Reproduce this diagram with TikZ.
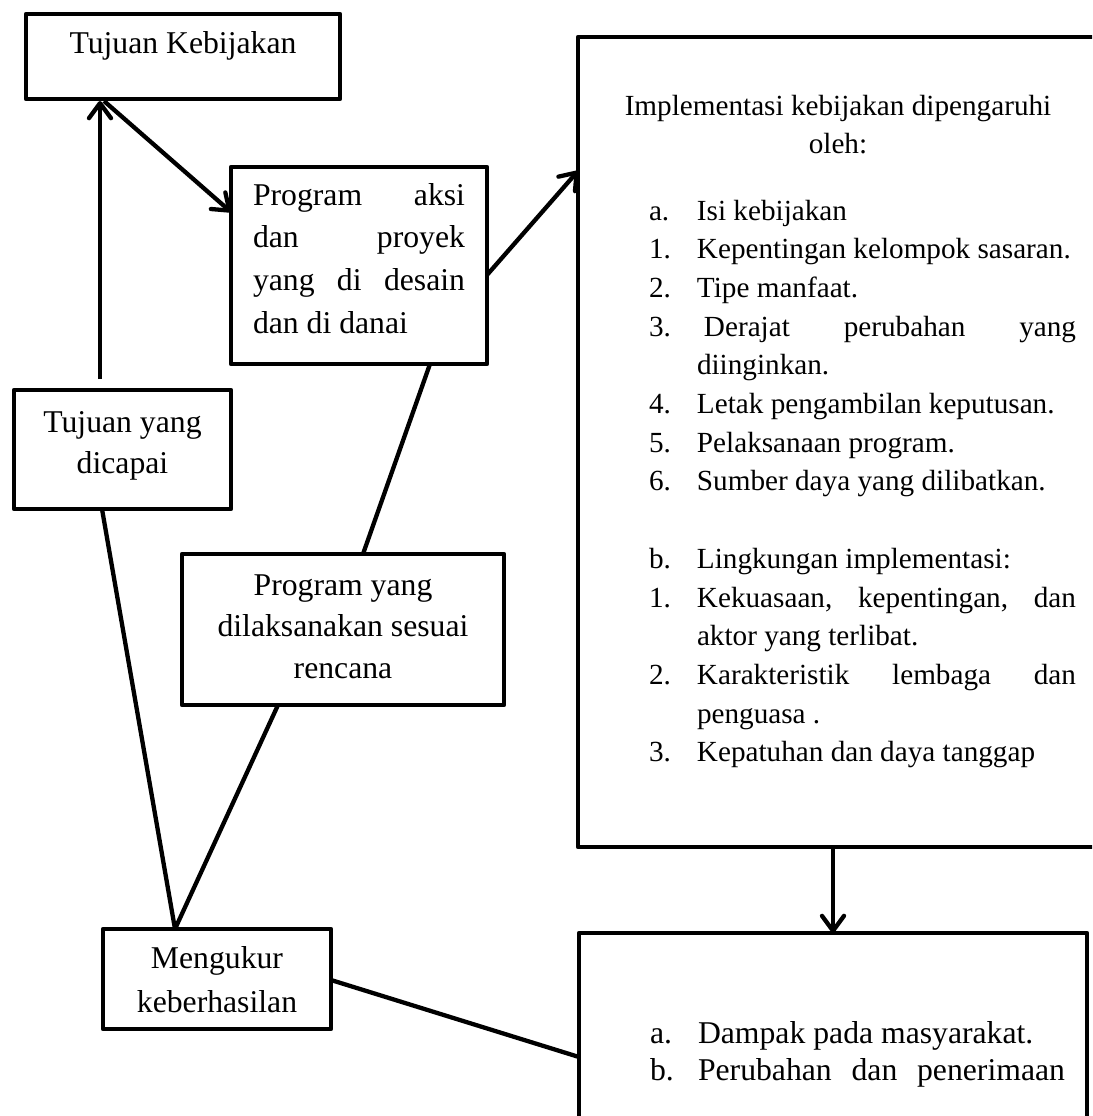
\documentclass[tikz,border=0pt]{standalone}
\usepackage{fontspec}
\setmainfont{Liberation Serif}
\usetikzlibrary{arrows.meta,calc}
\newcommand\fontbig{\fontsize{31.7}{42}\selectfont}
\newcommand\fontlist{\fontsize{29.2}{38.7}\selectfont}
\newcommand\myitem[2]{\makebox[48pt][l]{#1}#2\par}
\begin{document}
\begin{tikzpicture}[x=1pt,y=-1pt,
  box/.style={draw, line width=4.3pt, rectangle, inner sep=0pt, outer sep=0pt, line join=round},
  ln/.style={line width=4.3pt},
  arr/.style={line width=4.3pt, -{Straight Barb[length=15pt,width=22pt,round]}},
  txt/.style={inner sep=0pt, outer sep=0pt}]
\useasboundingbox (0,0) rectangle (1092,1116);
\clip (0,0) rectangle (1092,1116);
\fill[white] (0,0) rectangle (1092,1116);

% boxes
\node[box, minimum width=314pt, minimum height=85pt]  (tk)  at (183,56.5) {};
\node[box, minimum width=256pt, minimum height=197pt] (pa)  at (359,265.5) {};
\node[box, minimum width=522pt, minimum height=810pt] (big) at (839,442) {};
\node[box, minimum width=217pt, minimum height=119pt] (tyd) at (122.5,449.5) {};
\node[box, minimum width=322pt, minimum height=151pt] (pyd) at (343,629.5) {};
\node[box, minimum width=228pt, minimum height=100pt] (mk)  at (217,979) {};
\node[box, minimum width=508pt, minimum height=207pt] (bot) at (833,1036.5) {};

% texts
\node[txt, anchor=base] (tkt) at (183,53) {\fontbig Tujuan Kebijakan};
\node[txt, anchor=base west] (pat) at (253,205) {\parbox[t]{212pt}{\fontsize{31.7}{42.7}\selectfont
  \hbox to 212pt{Program\hfill aksi}\par
  \hbox to 212pt{dan\hfill proyek}\par
  \hbox to 212pt{yang\hfill di\hfill desain}\par
  dan di danai\par}};
\node[txt, anchor=base] (tydt) at (122.5,432) {\parbox[t]{210pt}{\centering\fontsize{31.7}{41}\selectfont Tujuan yang\\dicapai\par}};
\node[txt, anchor=base] (pydt) at (343,595) {\parbox[t]{316pt}{\centering\fontsize{31.7}{41.5}\selectfont Program yang\\dilaksanakan sesuai\\rencana\par}};
\node[txt, anchor=base] (mkt) at (217,968) {\parbox[t]{224pt}{\centering\fontsize{31.7}{44}\selectfont Mengukur\\keberhasilan\par}};
\node[txt, anchor=base] (bight) at (838,115) {\parbox[t]{480pt}{\centering\fontsize{29.2}{38}\selectfont Implementasi kebijakan dipengaruhi\\oleh:\par}};
\node[txt, anchor=base west] (biglt) at (649,220) {\parbox[t]{427pt}{\fontlist
  \myitem{a.}{Isi kebijakan}
  \myitem{1.}{Kepentingan kelompok sasaran.}
  \myitem{2.}{Tipe manfaat.}
  \myitem{3.}{\hbox to 379pt{\hspace{7pt}Derajat\hfill perubahan\hfill yang}}
  \myitem{}{diinginkan.}
  \myitem{4.}{Letak pengambilan keputusan.}
  \myitem{5.}{Pelaksanaan program.}
  \myitem{6.}{Sumber daya yang dilibatkan.}
  \mbox{}\par
  \myitem{b.}{Lingkungan implementasi:}
  \myitem{1.}{\hbox to 379pt{Kekuasaan,\hfill kepentingan,\hfill dan}}
  \myitem{}{aktor yang terlibat.}
  \myitem{2.}{\hbox to 379pt{Karakteristik\hfill lembaga\hfill dan}}
  \myitem{}{penguasa .}
  \myitem{3.}{Kepatuhan dan daya tanggap}}};
\node[txt, anchor=base west] (bott) at (650,1043) {\parbox[t]{430pt}{\fontsize{31.7}{37}\selectfont
  \myitem{a.}{Dampak pada masyarakat.}
  \myitem{b.}{\hbox to 367pt{Perubahan\hfill dan\hfill penerimaan}}}};

% connectors
\draw[arr] ($(tyd.north west)+(86,-11)$) -- ($(tk.south west)+(74,2)$);
\draw[arr] ($(tk.south west)+(78,2)$) -- ($(pa.north west)+(0,45)$);
\draw[arr] ($(pa.north east)+(0,108)$) -- ($(big.north west)+(0,134)$);
\draw[ln] ($(pa.south west)+(199,0)$) -- ($(pyd.north west)+(181,0)$);
\draw[ln] ($(tyd.south west)+(88,0)$) -- ($(mk.north west)+(72,0)$);
\draw[ln] ($(pyd.south west)+(96,0)$) -- ($(mk.north west)+(72,0)$);
\draw[arr] ($(big.south west)+(255,0)$) -- ($(bot.north west)+(254,0)$);
\draw[ln] ($(mk.north east)+(0,51)$) -- ($(bot.north west)+(0,124)$);
\end{tikzpicture}
\end{document}
